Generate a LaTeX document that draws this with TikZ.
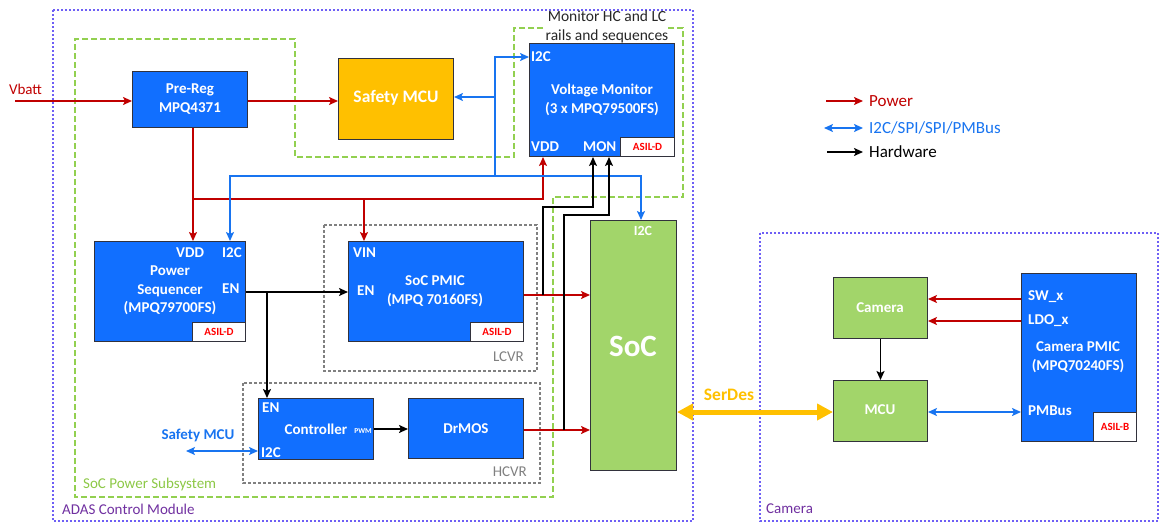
\documentclass[tikz,border=0pt]{standalone}
\usepackage{fontspec}
\setmainfont{Carlito}
\usetikzlibrary{arrows.meta}
\definecolor{boxblue}{RGB}{17,111,255}
\definecolor{boxedge}{RGB}{50,50,60}
\definecolor{pwred}{RGB}{192,0,0}
\definecolor{busblue}{RGB}{24,116,240}
\definecolor{socgreen}{RGB}{162,213,106}
\definecolor{mcuorange}{RGB}{255,192,0}
\definecolor{dashgreen}{RGB}{146,208,80}
\definecolor{dotpurple}{RGB}{110,95,245}
\definecolor{labpurple}{RGB}{112,48,160}
\definecolor{asilred}{RGB}{255,0,0}
\definecolor{graydash}{RGB}{128,128,128}
\definecolor{labgreen}{RGB}{140,200,70}
\begin{document}
\begin{tikzpicture}[x=1pt,y=-1pt,
  >={Stealth[length=9pt,width=8pt,inset=2pt]},
  blk/.style={draw=boxedge,line width=1pt,anchor=north west,inner sep=0pt},
  bluebox/.style={blk,fill=boxblue},
  greenbox/.style={blk,fill=socgreen},
  asil/.style={draw=boxedge,line width=1pt,fill=white,inner sep=0pt,anchor=south east,text=asilred,font=\bfseries\fontsize{11}{13}\selectfont,minimum height=19pt},
  wt/.style={text=white,inner sep=0pt,align=center,font=\bfseries\fontsize{15}{18.5}\selectfont},
  pin/.style={wt,anchor=west},
  pw/.style={draw=pwred,line width=1.8pt},
  bus/.style={draw=busblue,line width=1.8pt},
  hw/.style={draw=black,line width=1.8pt},
  grp/.style={draw=dotpurple,line width=1.8pt,dash pattern=on 2pt off 2pt},
  grn/.style={draw=dashgreen,line width=2.2pt,dash pattern=on 6pt off 3pt},
  gryd/.style={draw=graydash,line width=1.3pt,dash pattern=on 3pt off 2pt},
  reg/.style={inner sep=0pt,font=\fontsize{15}{19}\selectfont},
  leg/.style={inner sep=0pt,anchor=west,font=\fontsize{17}{20}\selectfont}
]
\useasboundingbox (0,0) rectangle (1167,531);

% groups
\draw[grp] (53,10) rectangle (693,521);
\draw[grp] (760,233) rectangle (1158,521);
\draw[grn] (543,28) -- (514,28) -- (514,157) -- (295,157) -- (295,39) -- (75,39) -- (75,497) -- (553,497) -- (553,197) -- (683,197) -- (683,28) -- (668,28);
\draw[gryd] (324,225) rectangle (537,371);
\draw[gryd] (243,383) rectangle (540,483);

\node[reg,anchor=west,text=labpurple] (adaslab) at (62,509) {ADAS Control Module};
\node[reg,anchor=west,text=labgreen] (soclab) at (83,484) {SoC Power Subsystem};
\node[reg,anchor=west,text=labpurple] (camlab) at (766,509) {Camera};
\node[reg,align=center,text=black!85,font=\fontsize{15.5}{19}\selectfont] (monlab) at (607,26.5) {Monitor HC and LC\\rails and sequences};
\node[reg,anchor=east,text=graydash] (lcvr) at (524,357) {LCVR};
\node[reg,anchor=east,text=graydash] (hcvr) at (527,472) {HCVR};

% boxes
\node[bluebox,minimum width=115pt,minimum height=56pt] (prereg) at (132,71) {};
\node[blk,fill=mcuorange,minimum width=115pt,minimum height=81pt] (smcu) at (338,58) {};
\node[bluebox,minimum width=145pt,minimum height=113pt] (vm) at (529,43) {};
\node[bluebox,minimum width=151pt,minimum height=100pt] (ps) at (94,241) {};
\node[bluebox,minimum width=175pt,minimum height=100pt] (pmic) at (348,241) {};
\node[bluebox,minimum width=115pt,minimum height=61pt] (ctrl) at (258,398) {};
\node[bluebox,minimum width=115pt,minimum height=60pt] (drmos) at (408,398) {};
\node[greenbox,minimum width=86pt,minimum height=250pt] (soc) at (590,220) {};
\node[greenbox,minimum width=94pt,minimum height=61pt] (cam) at (833,277) {};
\node[greenbox,minimum width=94pt,minimum height=61pt] (mcu) at (833,380) {};
\node[bluebox,minimum width=115pt,minimum height=168pt] (cpmic) at (1021,273) {};

\node[asil,minimum width=54pt] (vmasil) at (vm.south east) {ASIL-D};
\node[asil,minimum width=53pt] (psasil) at (ps.south east) {ASIL-D};
\node[asil,minimum width=53pt] (pmasil) at (pmic.south east) {ASIL-D};
\node[asil,minimum width=43pt,minimum height=29pt] (casil) at (cpmic.south east) {ASIL-B};

% box texts
\node[wt] (preregt) at (190,99) {Pre-Reg\\MPQ4371};
\node[wt,font=\bfseries\fontsize{17.5}{20}\selectfont] (smcut) at (396,98) {Safety MCU};
\node[wt,font=\bfseries\fontsize{15}{19}\selectfont] (vmt) at (602,99.5) {Voltage Monitor\\(3 x MPQ79500FS)};
\node[pin] (vmi2c) at (531,57) {I2C};
\node[pin] (vmvdd) at (531,147) {VDD};
\node[pin] (vmmon) at (583,147) {MON};
\node[wt,font=\bfseries\fontsize{15}{18.7}\selectfont] (pst) at (170,290.5) {Power\\Sequencer\\(MPQ79700FS)};
\node[pin] (psvdd) at (176,253) {VDD};
\node[pin] (psi2c) at (222,253) {I2C};
\node[pin] (psen) at (222,289) {EN};
\node[wt] (pmt) at (435,291) {SoC PMIC\\(MPQ 70160FS)};
\node[pin] (pmvin) at (353,253) {VIN};
\node[pin] (pmen) at (357,291) {EN};
\node[wt] (ctrlt) at (316,429) {Controller};
\node[wt,font=\bfseries\fontsize{7.5}{9}\selectfont] (pwmt) at (363,431) {PWM};
\node[pin] (ctrlen) at (262,408) {EN};
\node[pin] (ctrli2c) at (261,453) {I2C};
\node[wt] (drmost) at (466,429) {DrMOS};
\node[wt,font=\bfseries\fontsize{14}{17}\selectfont] (soci2c) at (643,231) {I2C};
\node[wt,font=\bfseries\fontsize{31}{36}\selectfont] (soct) at (633,346) {SoC};
\node[wt] (camt) at (880,308) {Camera};
\node[wt] (mcut) at (880,410) {MCU};
\node[wt,font=\bfseries\fontsize{15}{19}\selectfont] (cpt) at (1078,357.5) {Camera PMIC\\(MPQ70240FS)};
\node[pin] (csw) at (1028,297) {SW\_x};
\node[pin] (cldo) at (1028,321) {LDO\_x};
\node[pin] (cpmb) at (1028,411) {PMBus};

\node[reg,text=pwred] (vbatt) at (25.5,89) {Vbatt};
\node[reg,text=busblue,font=\bfseries\fontsize{15}{18}\selectfont] (smcu2) at (198,435) {Safety MCU};
\node[reg,text=mcuorange,font=\bfseries\fontsize{17.5}{20}\selectfont] (serdest) at (729,395) {SerDes};

% power
\coordinate (vb) at (15,101);
\draw[pw,->] (vb) -- (prereg.west |- vb);
\draw[pw,->] (prereg.east |- vb) -- (smcu.west |- vb);
\coordinate (r1) at (193,199);
\coordinate (r2) at (543,199);
\coordinate (r3) at (364,199);
\draw[pw,->] (prereg.south -| r1) -- (ps.north -| r1);
\draw[pw,->] (r1) -- (r2) -- (vm.south -| r2);
\draw[pw,->] (r3) -- (pmic.north -| r3);
\coordinate (p1) at (pmic.east |- 0,295);
\draw[pw,->] (p1) -- (soc.west |- p1);
\coordinate (d1) at (drmos.east |- 0,430);
\draw[pw,->] (d1) -- (soc.west |- d1);

% bus
\coordinate (b1) at (495,97);
\coordinate (b2) at (495,176);
\coordinate (b3) at (230,176);
\coordinate (b4) at (641,176);
\coordinate (vmi) at (vm.west |- 0,57);
\draw[bus,->] (b2) -- (b1) -- (smcu.east |- b1);
\draw[bus,->] (b1) |- (vmi);
\draw[bus,<->] (ps.north -| b3) -- (b3) -- (b4) -- (soc.north -| b4);
\coordinate (sm2) at (186,451);
\draw[bus,<->] (sm2) -- (ctrl.west |- sm2);

% hardware
\coordinate (e1) at (267,292);
\draw[hw,->] (ps.east |- e1) -- (pmic.west |- e1);
\draw[hw,->] (e1) -- (ctrl.north -| e1);
\draw[hw,->] (ctrl.east) -- (drmos.west |- ctrl.east);
\coordinate (m1a) at (543,295);
\coordinate (m1b) at (593,207);
\coordinate (m2a) at (564,430);
\coordinate (m2b) at (609,215);
\draw[hw,->] (m1a) |- (m1b) -- (vm.south -| m1b);
\draw[hw,->] (m2a) |- (m2b) -- (vm.south -| m2b);

% serdes
\coordinate (s1) at (soc.east |- 0,412);
\draw[draw=mcuorange,line width=5pt,{Triangle[length=16pt,width=16pt]}-{Triangle[length=16pt,width=16pt]}] (s1) -- (mcu.west |- s1);

% camera
\coordinate (c1) at (cpmic.west |- 0,299);
\coordinate (c2) at (cpmic.west |- 0,321);
\coordinate (c3) at (mcu.east |- 0,412);
\draw[pw,->] (c1) -- (cam.east |- c1);
\draw[pw,->] (c2) -- (cam.east |- c2);
\draw[hw,->] (cam.south) -- (mcu.north);
\draw[bus,<->] (c3) -- (cpmic.west |- c3);

% legend
\coordinate (l1a) at (826,101); \coordinate (l1b) at (863,101);
\coordinate (l2a) at (824,128); \coordinate (l2b) at (863,128);
\coordinate (l3a) at (827,152); \coordinate (l3b) at (863,152);
\draw[pw,->] (l1a) -- (l1b);
\draw[bus,<->] (l2a) -- (l2b);
\draw[hw,->] (l3a) -- (l3b);
\node[leg,text=pwred] (lpow) at (869,101) {Power};
\node[leg,text=busblue] (lbus) at (869,128) {I2C/SPI/SPI/PMBus};
\node[leg,text=black] (lhw) at (869,152) {Hardware};
\end{tikzpicture}
\end{document}
